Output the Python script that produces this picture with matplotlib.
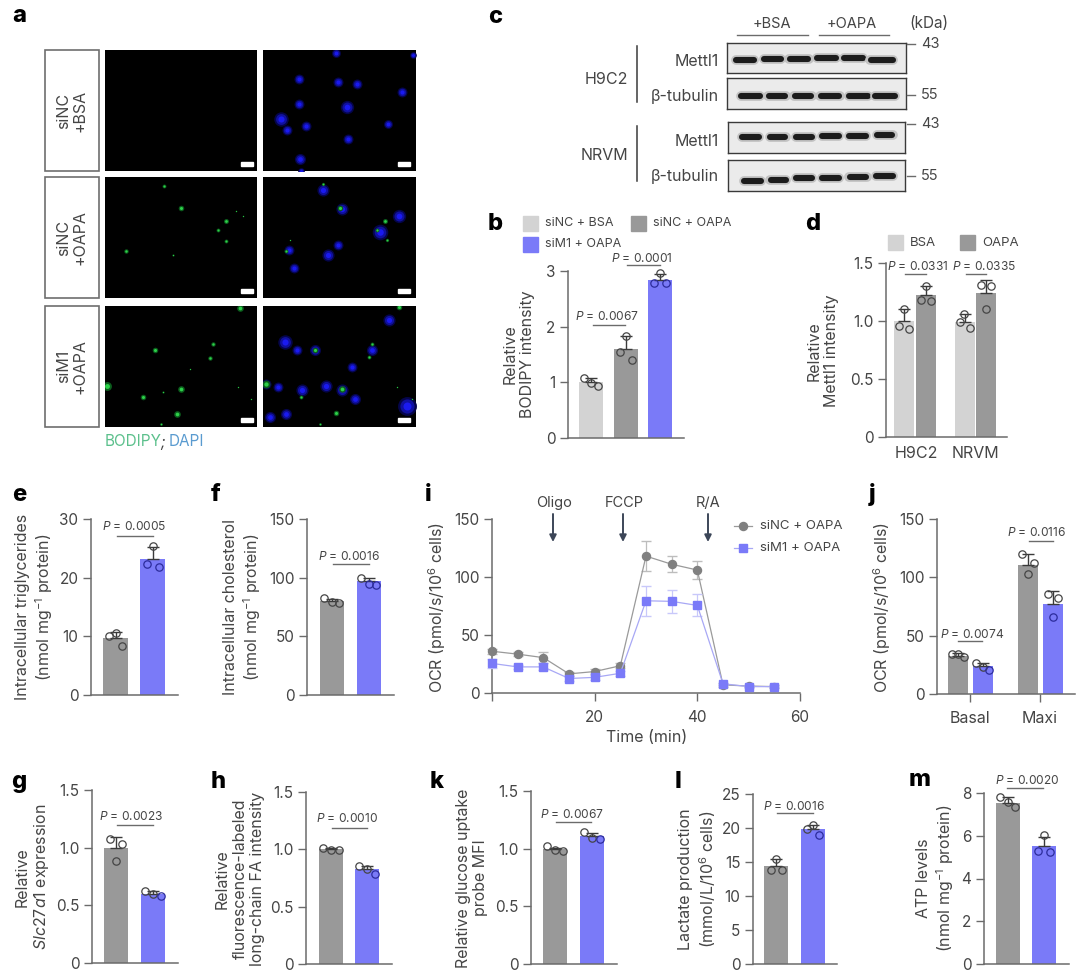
import matplotlib
matplotlib.use("Agg")
import matplotlib.pyplot as plt
from matplotlib.patches import Rectangle
from matplotlib.lines import Line2D

W, H = 1080, 975
FONT = "Inter"
plt.rcParams["font.family"] = [FONT, "DejaVu Sans"]
plt.rcParams["mathtext.fontset"] = "custom"
plt.rcParams["mathtext.rm"] = FONT
plt.rcParams["mathtext.it"] = FONT + ":italic"
plt.rcParams["mathtext.default"] = "regular"

GRAY = "#999999"
LIGHT = "#d3d3d3"
PURPLE = "#7a7af8"
TXT = "#454545"
AXC = "#6b6b6b"

# panel a, spots
nuclei_1 = [(1010,160,16),(1240,165,12),(898,238,18),(1015,245,18),(1070,252,18),(1205,275,18),(898,313,18),
            (1040,320,24),(843,355,26),(918,378,18),(862,390,18),(1165,372,16),(1045,417,18),(900,475,20),(905,512,12)]
nuclei_2 = [(970,572,22),(1025,628,22),(1197,650,24),(1140,697,28),(1015,735,18),(985,767,22),(868,750,18),(884,805,18)]
nuclei_3 = [(855,1025,26),(892,1050,18),(1115,1050,20),(945,1050,20),(1055,1100,18),(798,1150,18),(835,1160,18),
            (908,1170,22),(978,1158,22),(1025,1168,22),(1065,1195,20),(860,1240,20),(812,1250,20),(1222,1218,34),(1168,960,22)]
lipid_2_left = [(492,558,7),(545,625,10),(680,665,9),(655,690,7),(680,725,7),(380,755,8),(520,765,4),(710,635,3),(730,650,3)]
lipid_2_right = [(970,553,6),(1020,625,10),(1155,665,9),(1130,690,7),(1160,720,6),(860,755,7),(870,720,3)]
lipid_3_left = [(722,925,12),(640,1033,8),(465,1050,10),(632,1073,8),(322,1157,16),(430,1190,10),(545,1165,12),
                (532,1240,12),(485,1270,5),(715,1160,3),(755,1195,3),(570,1105,3),(490,1175,4)]
lipid_3_right = [(1197,922,10),(1117,1032,7),(945,1050,10),(1108,1072,7),(798,1152,14),(1025,1165,12),(905,1190,7),
                 (1190,1160,3),(1235,1195,3),(960,1270,5),(1008,1238,10)]
row_labels = ["siNC\n+BSA", "siNC\n+OAPA", "siM1\n+OAPA"]

# panel c band positions (x, y, width)
blot_h9_mettl = [(795,178,65),(878,176,62),(958,175,68),(1040,173,68),(1120,174,68),(1205,178,78)]
blot_h9_tub = [(812,288,68),(892,287,62),(970,288,62),(1050,288,68),(1135,287,68),(1215,289,72)]
blot_nr_mettl = [(812,412,62),(893,411,58),(972,411,58),(1052,409,62),(1133,408,62),(1215,405,58)]
blot_nr_tub = [(817,543,62),(895,541,58),(972,536,58),(1052,534,62),(1135,533,62),(1215,529,62)]

# bar panels: means, top of error bar, single points
b_means = [1.0, 1.6, 2.84]
b_err = [1.07, 1.83, 2.95]
b_points = [[1.08, 0.985, 0.93], [1.83, 1.54, 1.40], [2.96, 2.79, 2.78]]
d_means = [1.0, 1.22, 0.99, 1.243]
d_err = [1.10, 1.30, 1.06, 1.355]
d_points = [[1.10, 0.954, 0.93], [1.30, 1.18, 1.17], [1.057, 0.99, 0.94], [1.31, 1.305, 1.10]]
e_means = [9.7, 23.2]
e_err = [10.8, 25.2]
e_points = [[10.1, 10.5, 8.4], [25.4, 22.4, 21.8]]
f_means = [79.7, 96.8]
f_err = [81.7, 99.6]
f_points = [[82.5, 79.4, 78.0], [100.0, 95.0, 94.0]]
g_means = [0.995, 0.60]
g_err = [1.096, 0.623]
g_points = [[1.073, 1.03, 0.888], [0.626, 0.594, 0.583]]
h_means = [1.0, 0.828]
h_err = [1.015, 0.857]
h_points = [[1.009, 0.997, 0.997], [0.851, 0.831, 0.784]]
k_means = [1.0, 1.107]
k_err = [1.01, 1.14]
k_points = [[1.023, 0.991, 0.977], [1.144, 1.095, 1.087]]
l_means = [14.4, 19.8]
l_err = [15.5, 20.5]
l_points = [[15.5, 13.8, 13.8], [20.5, 19.8, 19.0]]
m_means = [7.55, 5.5]
m_err = [7.81, 5.95]
m_points = [[7.81, 7.56, 7.34], [6.03, 5.27, 5.23]]
j_means = [33.0, 23.6, 111.0, 77.4]
j_err = [35.0, 26.8, 120.0, 88.0]
j_points = [[34.7, 34.2, 31.3], [26.8, 23.0, 20.8], [120.0, 112.4, 103.0], [85.4, 82.6, 66.3]]

# panel i
i_time = [0, 5, 10, 15, 20, 25, 30, 35, 40, 45, 50, 55]
i_nc = [36, 33.5, 30.5, 16.5, 18.5, 23.5, 118, 111, 106, 7, 6, 5.5]
i_nc_sd = [2, 2, 5, 2, 2, 2, 13, 7, 8, 1.5, 1, 1]
i_m1 = [25.5, 22.5, 22.5, 12.5, 13.5, 17, 79.5, 79, 75.5, 8, 5.5, 5.5]
i_m1_sd = [4, 2, 3, 2, 2, 2, 13, 10, 9.5, 1, 1, 1]


fig = plt.figure(figsize=(W/100, H/100), dpi=100)
ov = fig.add_axes([0, 0, 1, 1], zorder=5)
ov.set_xlim(0, W)
ov.set_ylim(H, 0)
ov.axis("off")
ov.patch.set_alpha(0)


def pax(x0, x1, ytop, y0, **kw):
    return fig.add_axes([x0/W, 1-y0/H, (x1-x0)/W, (y0-ytop)/H], **kw)


def style(ax, yticks, ylabels):
    for s in ["top", "right"]:
        ax.spines[s].set_visible(False)
    for s in ["left", "bottom"]:
        ax.spines[s].set_color(AXC)
        ax.spines[s].set_linewidth(1.1)
    ax.set_yticks(yticks)
    ax.set_yticklabels(ylabels)
    ax.tick_params(axis="y", length=6, width=1.0, color=AXC, labelcolor=TXT, labelsize=11, pad=3)
    ax.tick_params(axis="x", length=0)
    ax.set_xticks([])


def bars(rect, yticks, ylabels, centers, means, errs, points, offsets, colors, bw=24):
    ax = pax(*rect)
    ax.set_xlim(rect[0], rect[1])
    ax.set_ylim(0, yticks[-1])
    style(ax, yticks, ylabels)
    ax.bar(centers, means, width=bw, color=colors, zorder=2)
    for c, m, e, pts, off in zip(centers, means, errs, points, offsets):
        ax.errorbar([c], [m], yerr=[[0], [e-m]], color="#3a3a3a", elinewidth=1.0, capsize=4.2, capthick=1.0, zorder=3)
        for p, o in zip(pts, off):
            inside = p < m - 0.01*yticks[-1]
            col = TXT
            if inside and colors[centers.index(c)] == PURPLE:
                col = "#2c2c9c"
            ax.plot([c+o], [p], "o", ms=5.3, mfc="none", mec=col, mew=0.9, clip_on=False, zorder=4)
    return ax


def ptext(txt, x, y, lx0, lx1, ly):
    ov.text(x, y, r"$\mathit{P}$ = " + txt, ha="center", va="center", fontsize=8.6, color=TXT)
    ov.plot([lx0, lx1], [ly, ly], color=AXC, lw=1.0)


def vlabel(txt, x, y):
    ov.text(x, y, txt, rotation=90, ha="center", va="center", fontsize=11.5, color=TXT, linespacing=1.2, multialignment="center")


def letter(c, x, y):
    ov.text(x, y, c, ha="center", va="center", fontsize=17, fontweight="heavy", color="black")


def micro(rect, lim, nuc, lip, bar_x):
    ax = pax(*rect)
    ax.set_facecolor("black")
    ax.set_xlim(lim[0], lim[1])
    ax.set_ylim(lim[3], lim[2])
    ax.set_xticks([])
    ax.set_yticks([])
    for s in ax.spines.values():
        s.set_visible(False)
    for x, y, d in nuc:
        ax.scatter([x], [y], s=(d*0.4)**2, color="#05054a", linewidths=0, zorder=1)
        ax.scatter([x], [y], s=(d*0.3)**2, color="#1010a0", linewidths=0, zorder=2)
        ax.scatter([x], [y], s=(d*0.17)**2, color="#1a1af0", linewidths=0, zorder=2)
    for x, y, d in lip:
        ax.scatter([x], [y], s=(d*0.4)**2, color="#0b5c1c", linewidths=0, zorder=3)
        ax.scatter([x], [y], s=(d*0.22)**2, color="#2ed04a", linewidths=0, zorder=4)
    ax.add_patch(Rectangle((bar_x, lim[3]-26), 36, 12, color="white", zorder=5))


def blot(rect, lim, bands):
    ax = pax(*rect)
    ax.set_facecolor("#ebebeb")
    ax.set_xlim(lim[0], lim[1])
    ax.set_ylim(lim[3], lim[2])
    ax.set_xticks([])
    ax.set_yticks([])
    for s in ax.spines.values():
        s.set_color("#3a3a3a")
        s.set_linewidth(1.0)
    for x, y, w in bands:
        ax.plot([x-w/2+5, x+w/2-5], [y, y], color="#c2c2c2", lw=7, solid_capstyle="round")
        ax.plot([x-w/2+6, x+w/2-6], [y, y], color="#1c1c1c", lw=4.4, solid_capstyle="round")


# panel a
letter("a", 19, 16)
rows = [(50, 171, 150, 512), (177, 298, 532, 895), (306, 427, 918, 1280)]
nuc_rows = [nuclei_1, nuclei_2, nuclei_3]
lip_left = [[], lipid_2_left, lipid_3_left]
lip_right = [[], lipid_2_right, lipid_3_right]
for i, (ya, yb, za, zb) in enumerate(rows):
    ov.add_patch(Rectangle((45, ya), 54, yb-ya, fc="white", ec="#6e6e6e", lw=1.2))
    ov.text(72, (ya+yb)/2, row_labels[i], rotation=90, ha="center", va="center", fontsize=11.5, color=TXT, linespacing=1.15)
    micro((105, 257, ya, yb), (316, 772, za, zb), [], lip_left[i], 723)
    micro((263, 416, ya, yb), (790, 1248, za, zb), nuc_rows[i], lip_right[i], 1194)
ov.text(105, 442, "BODIPY", ha="left", va="center", fontsize=11, color="#5cc08c")
ov.text(160, 442, ";", ha="left", va="center", fontsize=11, color=TXT, style="italic")
ov.text(169, 442, "DAPI", ha="left", va="center", fontsize=11, color="#5a9bd0")

# panel c
letter("c", 495, 17)
blot((727, 906, 43, 73), (742, 1278, 128, 218), blot_h9_mettl)
blot((727, 906, 78, 109), (742, 1278, 235, 326), blot_h9_tub)
blot((728, 905, 122, 153), (744, 1276, 366, 460), blot_nr_mettl)
blot((728, 905, 160, 191), (744, 1276, 481, 574), blot_nr_tub)
ov.text(772, 24, "+BSA", ha="center", va="center", fontsize=10.5, color=TXT)
ov.text(852, 24, "+OAPA", ha="center", va="center", fontsize=10.5, color=TXT)
ov.text(929, 24, "(kDa)", ha="center", va="center", fontsize=11, color=TXT)
ov.plot([737, 808], [35, 35], color=AXC, lw=1.0)
ov.plot([819, 889], [35, 35], color=AXC, lw=1.0)
for y, t in [(44, "43"), (95, "55"), (124, "43"), (176, "55")]:
    ov.plot([907, 915], [y, y], color=AXC, lw=1.0)
    ov.text(930, y, t, ha="center", va="center", fontsize=10.5, color=TXT)
ov.plot([637, 637], [46, 102], color="#3a3a3a", lw=1.1)
ov.plot([637, 637], [126, 181], color="#3a3a3a", lw=1.1)
ov.text(628, 79, "H9C2", ha="right", va="center", fontsize=11.5, color=TXT)
ov.text(628, 156, "NRVM", ha="right", va="center", fontsize=11.5, color=TXT)
for y, t in [(62, "Mettl1"), (96, "β-tubulin"), (141, "Mettl1"), (176, "β-tubulin")]:
    ov.text(719, y, t, ha="right", va="center", fontsize=11.5, color=TXT)

# panel b
letter("b", 495, 224)
for x, y, c, t in [(523, 216, LIGHT, "siNC + BSA"), (631, 216, GRAY, "siNC + OAPA"), (523, 237, PURPLE, "siM1 + OAPA")]:
    ov.add_patch(Rectangle((x, y), 14.5, 14.5, color=c))
    ov.text(x+22, y+7, t, ha="left", va="center", fontsize=9, color=TXT)
bars((568, 684, 271, 438), [0, 1, 2, 3], ["0", "1", "2", "3"], [590.5, 626, 660], b_means, b_err, b_points,
     [[-7, 0, 7.5], [0, -6, 6], [0, -6, 6]], [LIGHT, GRAY, PURPLE])
ptext("0.0067", 607, 317, 593, 625, 325)
ptext("0.0001", 642, 258, 627, 660, 265)
vlabel("Relative\nBODIPY intensity", 519, 354)

# panel d
letter("d", 813, 224)
for x, c, t in [(888, LIGHT, "BSA"), (960, GRAY, "OAPA")]:
    ov.add_patch(Rectangle((x, 235), 14.5, 14.5, color=c))
    ov.text(x+22, 243, t, ha="left", va="center", fontsize=9.5, color=TXT)
ax_d = bars((886, 1007, 263, 437), [0, 0.5, 1.0, 1.5], ["0", "0.5", "1.0", "1.5"], [904, 926, 965, 986], d_means, d_err, d_points,
            [[0, -5, 5], [0, -5, 5], [-1, -5, 4.5], [-5, 5, 0]], [LIGHT, GRAY, LIGHT, GRAY], bw=20)
ptext("0.0331", 918, 266, 905, 926, 274)
ptext("0.0335", 984, 266, 966, 986, 274)
ov.text(916, 453, "H9C2", ha="center", va="center", fontsize=11.5, color=TXT)
ov.text(975, 453, "NRVM", ha="center", va="center", fontsize=11.5, color=TXT)
vlabel("Relative\nMettl1 intensity", 823, 351)

# panels e, f
letter("e", 19, 495)
bars((91, 178, 519, 695), [0, 10, 20, 30], ["0", "10", "20", "30"], [115.5, 152.5], e_means, e_err, e_points,
     [[-6.5, 0, 6], [0, -6, 6.5]], [GRAY, PURPLE], bw=25)
ptext("0.0005", 134, 527, 117, 153, 536)
vlabel("Intracellular triglycerides\n(nmol mg$^{-1}$ protein)", 35, 607)

letter("f", 216, 495)
bars((307, 394, 519, 695), [0, 50, 100, 150], ["0", "50", "100", "150"], [332, 369], f_means, f_err, f_points,
     [[-8, 0, 7], [-8, 0, 7]], [GRAY, PURPLE])
ptext("0.0016", 349, 556, 333, 369, 564)
vlabel("Intracellular cholesterol\n(nmol mg$^{-1}$ protein)", 243, 607)

# panel i
letter("i", 428, 495)
ax_i = pax(492, 800, 519, 693)
ax_i.set_xlim(0, 60)
ax_i.set_ylim(0, 150)
style(ax_i, [0, 50, 100, 150], ["0", "50", "100", "150"])
ax_i.set_xticks([0, 20, 40, 60])
ax_i.set_xticklabels(["", "20", "40", "60"])
ax_i.tick_params(axis="x", length=6, width=1.0, color=AXC, labelcolor=TXT, labelsize=11, pad=6)
ax_i.errorbar(i_time, i_nc, yerr=i_nc_sd, color="#9a9a9a", ecolor="#bdbdbd", elinewidth=0.9, capsize=3.5, lw=0.9,
              marker="o", ms=5.8, mfc="#808080", mec="#808080", clip_on=False, zorder=3)
ax_i.errorbar(i_time, i_m1, yerr=i_m1_sd, color="#a8a8f5", ecolor="#c8c8fa", elinewidth=0.9, capsize=3.5, lw=0.9,
              marker="s", ms=5.5, mfc=PURPLE, mec=PURPLE, clip_on=False, zorder=4)
for x, tx, t in [(553, 554, "Oligo"), (623, 624, "FCCP"), (708, 708, "R/A")]:
    ov.text(tx, 503, t, ha="center", va="center", fontsize=10.5, color=TXT)
    ov.annotate("", xy=(x, 542), xytext=(x, 514), arrowprops=dict(arrowstyle="-|>", color="#3c4658", lw=1.4, shrinkA=0, shrinkB=0))
ov.add_line(Line2D([734, 752], [526, 526], color="#9a9a9a", lw=0.9))
ov.add_line(Line2D([743], [526], marker="o", ms=5.8, mfc="#808080", mec="#808080"))
ov.add_line(Line2D([734, 752], [548, 548], color="#a8a8f5", lw=0.9))
ov.add_line(Line2D([743], [548], marker="s", ms=5.5, mfc=PURPLE, mec=PURPLE))
ov.text(760, 526, "siNC + OAPA", ha="left", va="center", fontsize=9.5, color=TXT)
ov.text(760, 548, "siM1 + OAPA", ha="left", va="center", fontsize=9.5, color=TXT)
ov.text(647, 738, "Time (min)", ha="center", va="center", fontsize=11.5, color=TXT)
vlabel("OCR (pmol/s/10$^{6}$ cells)", 437, 607)

# panel j
letter("j", 872, 495)
ax_j = bars((937, 1075, 519, 694), [0, 50, 100, 150], ["0", "50", "100", "150"], [958, 982.5, 1028, 1052.5], j_means, j_err, j_points,
            [[-6, 0, 6], [-7, 0, 6], [-6, 6, 0], [-5, 5, 0]], [GRAY, PURPLE, GRAY, PURPLE], bw=20)
ax_j.set_xticks([970, 1040])
ax_j.set_xticklabels(["Basal", "Maxi"])
ax_j.tick_params(axis="x", length=6, width=1.0, color=AXC, labelcolor=TXT, labelsize=11.5, pad=6)
ptext("0.0074", 972, 634, 958, 982, 641)
ptext("0.0116", 1037, 532, 1029, 1053, 541)
vlabel("OCR (pmol/s/10$^{6}$ cells)", 882, 607)

# bottom row
t15 = [0, 0.5, 1.0, 1.5]
l15 = ["0", "0.5", "1.0", "1.5"]
letter("g", 19, 782)
bars((92, 178, 790, 963), t15, l15, [116, 153], g_means, g_err, g_points, [[-6, 6, 0], [-8, 0, 8]], [GRAY, PURPLE])
ptext("0.0023", 131, 817, 117, 153, 825)
vlabel("Relative\n$\\mathit{Slc27a1}$ expression", 33, 877)

letter("h", 218, 782)
bars((306, 392, 792, 964), t15, l15, [331, 367], h_means, h_err, h_points, [[-8, 0, 8], [-8, 0, 8]], [GRAY, PURPLE])
ptext("0.0010", 347, 819, 332, 367, 828)
vlabel("Relative\nfluorescence-labeled\nlong-chain FA intensity", 240, 879)

letter("k", 437, 782)
bars((531, 617, 791, 964), t15, l15, [555, 592], k_means, k_err, k_points, [[-8, 0, 8], [-8, 0, 8]], [GRAY, PURPLE])
ptext("0.0067", 572, 814, 556, 591, 822)
vlabel("Relative glucose uptake\nprobe MFI", 472, 878)

letter("l", 678, 782)
bars((753, 837, 794, 964), [0, 5, 10, 15, 20, 25], ["0", "5", "10", "15", "20", "25"], [776, 813], l_means, l_err, l_points,
     [[0, -5, 6], [0, -6, 6]], [GRAY, PURPLE])
ptext("0.0016", 794, 806, 777, 813, 813)
vlabel("Lactate production\n(mmol/L/10$^{6}$ cells)", 698, 879)

letter("m", 920, 780)
bars((984, 1069, 793, 964), [0, 2, 4, 6, 8], ["0", "2", "4", "6", "8"], [1008, 1044], m_means, m_err, m_points,
     [[-8, 0, 7], [0, -6, 6]], [GRAY, PURPLE])
ptext("0.0020", 1027, 781, 1007, 1043, 788)
vlabel("ATP levels\n(nmol mg$^{-1}$ protein)", 936, 878)

fig.savefig("out.png", dpi=100, facecolor="white")
